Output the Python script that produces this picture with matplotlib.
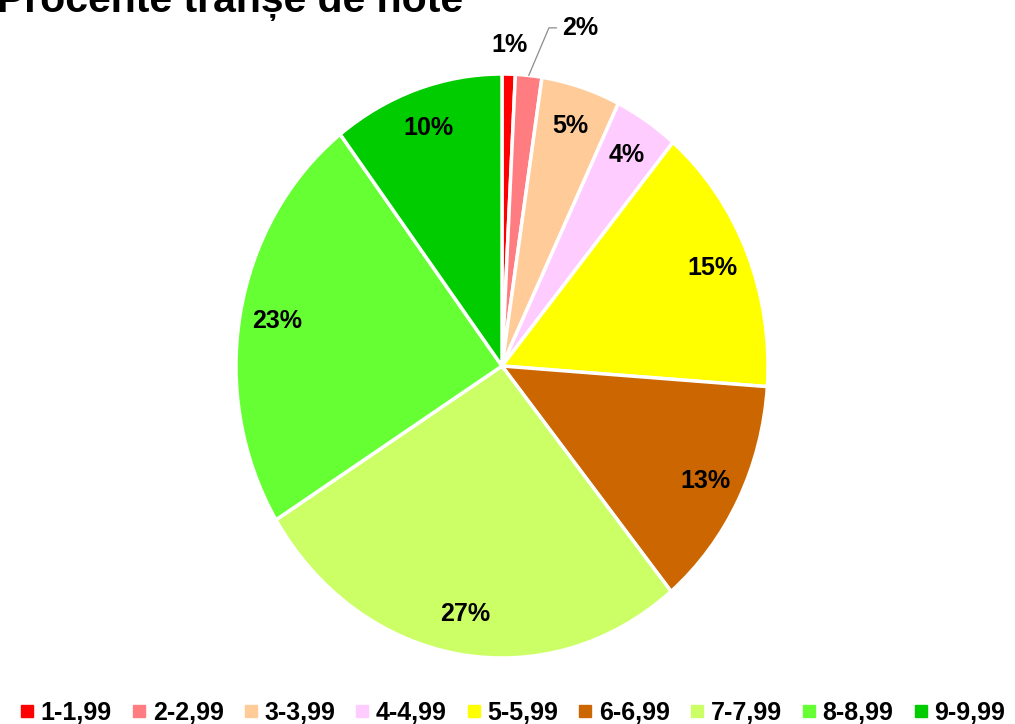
import matplotlib
matplotlib.use('Agg')
import matplotlib.pyplot as plt
from matplotlib.lines import Line2D
from matplotlib import font_manager
import numpy as np

plt.rcParams['font.family'] = ['Liberation Sans', 'DejaVu Sans']

# grade ranges and their share (%)
categories = ['1-1,99', '2-2,99', '3-3,99', '4-4,99', '5-5,99',
              '6-6,99', '7-7,99', '8-8,99', '9-9,99']
shares = [0.8, 1.6, 4.8, 3.9, 15.0, 12.9, 27.1, 23.4, 10.4]
colors = ['#FF0000', '#FF7C80', '#FFCC99', '#FFCCFF', '#FFFF00',
          '#CC6600', '#CCFF66', '#66FF33', '#00CC00']
title = 'Procente tranșe de note'

# percent labels look like a narrow bold face in the reference
names = {f.name for f in font_manager.fontManager.ttflist}
if 'Liberation Sans Narrow' in names:
    lab_font = dict(family=['Liberation Sans Narrow', 'Liberation Sans'], fontsize=21)
else:
    lab_font = dict(family=['Liberation Sans', 'DejaVu Sans'], fontsize=18)

fig = plt.figure(figsize=(10.15, 7.24), dpi=100)

# pie is a bit taller than wide in the reference
cx, cy, rx, ry = 502, 366, 266, 292
W, H = 1015, 724
ax = fig.add_axes([(cx - rx) / W, (H - cy - ry) / H, 2 * rx / W, 2 * ry / H])

small = 2.5  # slices below this get labels outside

def pct(p):
    return '' if p < small else '%.0f%%' % p

wedges, texts, autotexts = ax.pie(shares, colors=colors, startangle=90,
                                  counterclock=False, autopct=pct,
                                  pctdistance=0.86,
                                  wedgeprops=dict(edgecolor='white', linewidth=2.5),
                                  textprops=dict(fontweight='bold', **lab_font))
ax.set_aspect('auto')
ax.set_xlim(-1, 1)
ax.set_ylim(-1, 1)
for w in wedges:
    w.set_clip_on(False)

# outside labels for the tiny slices
w0 = wedges[0]
a0 = np.deg2rad((w0.theta1 + w0.theta2) / 2)
ax.text(1.1 * np.cos(a0), 1.1 * np.sin(a0), '%.0f%%' % shares[0],
        ha='center', va='center', fontweight='bold', clip_on=False, **lab_font)

w1 = wedges[1]
a1 = np.deg2rad((w1.theta1 + w1.theta2) / 2)
ax.annotate('%.0f%%' % shares[1], xy=(np.cos(a1), np.sin(a1)),
            xytext=(0.226, 1.158), ha='left', va='center',
            fontweight='bold', annotation_clip=False,
            arrowprops=dict(arrowstyle='-', color='#8C8C8C', lw=0.9,
                            connectionstyle='angle,angleA=0,angleB=67,rad=0',
                            relpos=(0, 0.5), shrinkA=2, shrinkB=0),
            **lab_font)

fig.text(-0.003, 1 - 12 / H, title, fontsize=29.5, fontweight='bold',
         va='baseline', ha='left')

handles = [Line2D([], [], marker='s', linestyle='none', markersize=8,
                  markerfacecolor=c, markeredgecolor=c) for c in colors]
fig.legend(handles, categories, loc='center', ncol=9,
           bbox_to_anchor=(513 / W, 1 - 713 / H), frameon=False,
           prop=dict(size=18, weight='bold'), handlelength=0.5,
           handletextpad=0.3, columnspacing=0.83, borderpad=0,
           borderaxespad=0)

fig.savefig('out.png', dpi=100)
